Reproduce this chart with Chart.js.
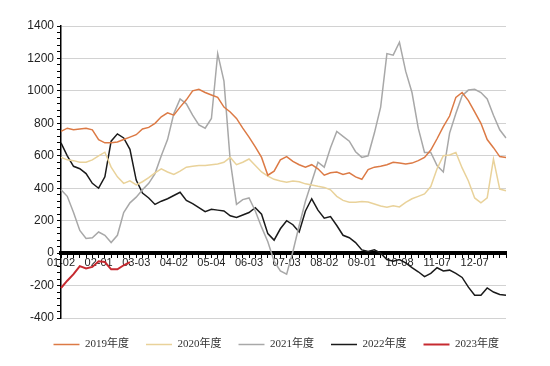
<!DOCTYPE html>
<html>
<head>
<meta charset="utf-8">
<script src="https://cdn.jsdelivr.net/npm/chart.js@4/dist/chart.umd.min.js"></script>
<style>
  html, body { margin: 0; padding: 0; background: #fff; }
  #wrap { width: 550px; height: 366px; }
</style>
</head>
<body>
<div id="wrap"><canvas id="seasonChart"></canvas></div>
<script>
// x tick labels, one every 6 samples
const tickLabels = ['01-02', '02-01', '03-03', '04-02', '05-04', '06-03', '07-03', '08-02', '09-01', '10-08', '11-07', '12-07'];
const samplesPerTick = 6;
const sampleCount = 72;

const yearNames = ['2019年度', '2020年度', '2021年度', '2022年度', '2023年度'];

const s2019 = [750, 770, 760, 765, 770, 760, 700, 680, 680, 685,
  700, 715, 730, 765, 775, 800, 840, 865, 850, 900,
  945, 1000, 1010, 990, 975, 960, 900, 870, 830, 770,
  715, 655, 590, 480, 505, 575, 595, 565, 545, 530,
  545, 520, 480, 495, 500, 485, 495, 470, 455, 515,
  530, 535, 545, 560, 555, 550, 555, 570, 590, 635,
  705, 780, 845, 960, 990, 940, 870, 800, 700, 650,
  595, 590];

const s2020 = [590, 575, 570, 560, 560, 575, 600, 622, 530, 470,
  430, 445, 420, 440, 465, 495, 520, 500, 485, 505,
  530, 535, 540, 540, 545, 550, 560, 590, 545, 560,
  580, 540, 500, 475, 455, 445, 437, 445, 440, 427,
  420, 412, 405, 390, 350, 325, 313, 313, 318, 315,
  303, 290, 283, 292, 285, 313, 335, 350, 365, 410,
  520, 600, 605, 620, 525, 445, 340, 310, 340, 580,
  395, 385];

const s2021 = [390, 350, 250, 140, 90, 95, 130, 110, 65, 110,
  250, 310, 345, 390, 430, 490, 600, 700, 860, 950,
  920, 850, 790, 770, 830, 1230, 1060, 570, 300, 330,
  340, 260, 160, 70, -50, -110, -130, 10, 170, 320,
  440, 560, 530, 650, 750, 720, 690, 625, 590, 600,
  740, 900, 1230, 1220, 1300, 1120, 990, 770, 620, 620,
  540, 500, 740, 860, 970, 1005, 1010, 990, 950, 850,
  760, 710];

const s2022 = [680, 600, 535, 520, 490, 430, 400, 470, 690, 735,
  710, 640, 450, 370, 340, 300, 320, 335, 355, 375,
  325, 305, 280, 255, 270, 265, 260, 230, 220, 235,
  250, 280, 240, 120, 80, 150, 200, 175, 130, 260,
  335, 265, 215, 225, 170, 110, 95, 65, 20, 10,
  20, 0, -40, -50, -40, -60, -90, -115, -145, -125,
  -90, -110, -105, -125, -150, -210, -260, -260, -215, -240,
  -255, -260];

const s2023 = [-215, -170, -130, -80, -95, -85, -50, -55, -100, -100, -75, -55];

const yearColors = ['#DC7A45', '#E9D29A', '#A8A8A8', '#1A1A1A', '#C62A30'];

// category labels: a tick label every samplesPerTick samples
const xLabels = [];
for (let i = 0; i < sampleCount; i++) {
    xLabels.push(i % samplesPerTick === 0 ? tickLabels[i / samplesPerTick] : '');
}

const seriesList = [s2019, s2020, s2021, s2022, s2023];
const datasets = seriesList.map((values, k) => ({
    label: yearNames[k],
    data: values,
    borderColor: yearColors[k],
    backgroundColor: yearColors[k],
    borderWidth: k === 4 ? 2 : 1.5,
    pointRadius: 0,
    tension: 0,
    fill: false
}));

// nudge the legend right and down, it sits centred under the whole picture
const legendShift = {
    id: 'legendShift',
    afterLayout(chart) {
        chart.legend.left += 10;
        chart.legend.right += 10;
        chart.legend.top += 4;
        chart.legend.bottom += 4;
    }
};

const ctx = document.getElementById('seasonChart').getContext('2d');
const seasonChart = new Chart(ctx, {
    type: 'line',
    data: {
        labels: xLabels,
        datasets: datasets
    },
    plugins: [legendShift],
    options: {
        responsive: true,
        maintainAspectRatio: false,
        animation: false,
        layout: {
            padding: { top: 26, right: 44, bottom: 10, left: 0 }
        },
        plugins: {
            tooltip: { enabled: false },
            legend: {
                position: 'bottom',
                align: 'end',
                labels: {
                    usePointStyle: true,
                    pointStyle: 'line',
                    pointStyleWidth: 26,
                    padding: 17,
                    color: '#333',
                    font: { family: "'Liberation Serif', 'Noto Sans CJK SC'", size: 11 }
                }
            }
        },
        scales: {
            x: {
                position: { y: 0 },
                grid: {
                    drawOnChartArea: false,
                    tickLength: 3,
                    tickColor: '#000'
                },
                border: { color: '#000', width: 4 },
                ticks: {
                    autoSkip: false,
                    maxRotation: 0,
                    padding: 0,
                    color: '#222',
                    font: { family: "'Liberation Sans'", size: 11 },
                    callback: (value, index) => xLabels[index]
                }
            },
            y: {
                min: -400,
                max: 1400,
                afterFit: (scale) => { scale.width = 61; },
                grid: {
                    color: (c) => (c.tick && c.tick.value % 200 === 0) ? '#D2D2D2' : 'rgba(0,0,0,0)',
                    tickColor: '#000',
                    tickLength: 4
                },
                border: { color: '#000', width: 1.5 },
                ticks: {
                    stepSize: 40,
                    autoSkip: false,
                    color: '#222',
                    font: { family: "'Liberation Sans'", size: 12 },
                    callback: (value) => value % 200 === 0 ? value : ''
                }
            }
        }
    }
});
</script>
</body>
</html>
